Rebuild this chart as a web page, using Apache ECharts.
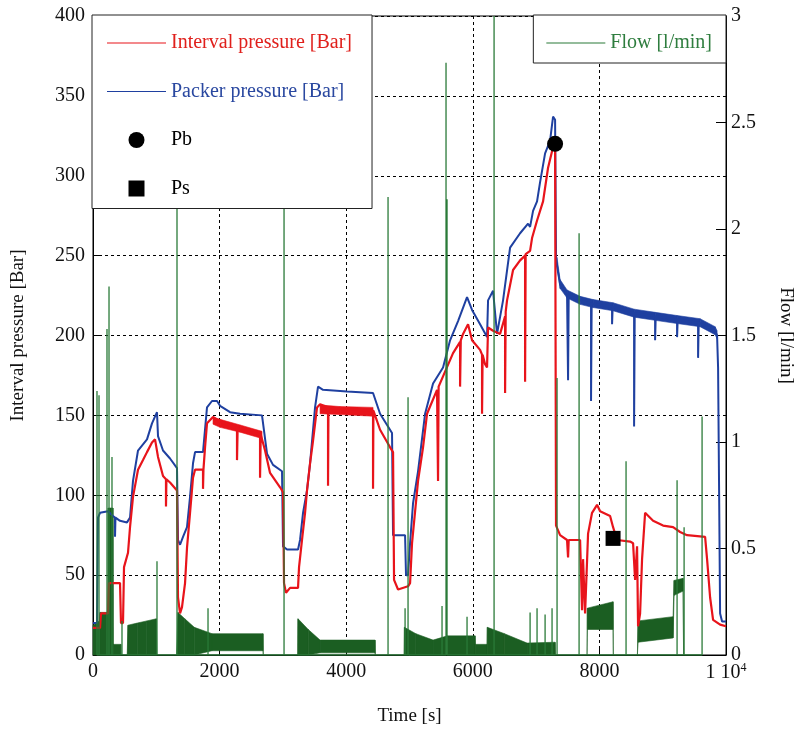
<!DOCTYPE html>
<html><head><meta charset="utf-8">
<script src="https://cdn.jsdelivr.net/npm/echarts@6/dist/echarts.min.js"></script>
<style>html,body{margin:0;padding:0;background:#fff}#c{width:795px;height:731px}</style>
</head><body><div id="c"></div>
<script>
// ---- data ----
const xTickMax = 10000;
const leftTickLabels = [0,50,100,150,200,250,300,350,400];
const rightTickLabels = [0,0.5,1,1.5,2,2.5,3];

// Interval pressure [Bar]: time [s] and pressure
const redT = [0,111,126,237,253,427,442,474,490,553,585,632,711,790,853,932,980,1027,1106,1153,1153,1160,1217,1327,1343,1375,1406,1454,1485,1533,1580,1612,1738,1738,1745,1770,1801,1896,2007,2275,2275,2285,2323,2639,2639,2650,2670,2718,2797,2955,3002,3018,3049,3113,3239,3255,3302,3350,3381,3429,3476,3539,3587,3713,3713,3720,3903,4424,4424,4430,4535,4693,4740,4756,4819,4977,5009,5040,5135,5214,5277,5435,5451,5451,5460,5688,5799,5799,5810,5846,5925,5988,6115,6146,6146,6155,6194,6225,6241,6320,6431,6510,6510,6520,6541,6636,6747,6826,6826,6835,6905,6936,7015,7110,7189,7268,7300,7315,7379,7489,7505,7515,7695,7726,7742,7774,7805,7821,7884,7963,8011,8169,8216,8279,8485,8532,8564,8595,8611,8643,8674,8722,8753,8848,9006,9164,9275,9385,9670,9701,9749,9796,9907,10000];
const redP = [17,17,26,26,45,45,20,20,55,64,80,99,116,122,127,133,135,124,112,110,93,110,108,103,36,26,30,45,67,89,111,116,116,104,116,130,145,149,146,142,122,142,141,138,111,138,137,128,114,105,102,45,39,42,42,55,72,89,103,120,134,155,157,155,106,155,154,153,104,153,141,130,127,47,41,43,45,70,109,130,151,166,166,109,168,189,196,168,197,201,207,197,191,188,151,188,182,180,205,203,201,212,164,215,222,241,247,250,171,251,253,261,272,284,305,318,320,81,75,72,61,72,72,28,60,26,26,76,89,94,90,87,80,72,71,70,47,68,18,26,60,89,90,84,81,80,77,75,74,60,36,22,19,18];
// noisy thick stretches of the interval pressure: [time, low, high]
const redNoiseA = [[1896,144.5,149],[2007,142.5,147.5],[2323,139.5,144],[2670,135.5,140]];
const redNoiseB = [[3587,151,156.5],[3903,150.5,155.5],[4424,149.5,155]];

// Packer pressure [Bar]: [time, pressure]
const packer = [[0,20],[63,20],[79,86],[111,89],[237,90],[316,87],[348,86],[348,74],[355,86],[427,84],[537,83],[585,86],[632,109],[711,128],[853,135],[932,145],[1011,152],[1027,137],[1106,128],[1217,123],[1327,117],[1343,72],[1375,69],[1422,74],[1485,80],[1533,99],[1580,120],[1612,127],[1738,127],[1801,155],[1880,159],[1959,159],[2007,156],[2165,152],[2323,151],[2670,150],[2749,126],[2844,119],[2986,115],[3002,68],[3065,66],[3239,66],[3271,72],[3318,89],[3381,103],[3429,120],[3508,155],[3555,168],[3634,166],[4013,165],[4424,164],[4535,151],[4724,139],[4740,75],[4930,75],[4945,50],[4977,50],[5009,70],[5056,95],[5135,115],[5246,151],[5372,170],[5530,180],[5641,197],[5767,209],[5909,224],[5988,216],[6115,207],[6225,199],[6241,222],[6320,228],[6383,201],[6478,222],[6589,255],[6747,264],[6873,270],[6905,268],[6952,278],[7015,284],[7063,296],[7142,314],[7221,322],[7252,332],[7268,337],[7300,335],[7315,247],[7379,232],[7489,226],[7505,226],[7505,172],[7515,225],[7695,222],[7868,220],[7868,159],[7878,220],[8200,218],[8200,207],[8210,218],[8548,214],[8548,143],[8558,214],[8880,212],[8880,197],[8890,212],[9227,210],[9227,199],[9237,210],[9559,208],[9559,186],[9569,208],[9828,203],[9859,200],[9875,180],[9907,26],[9938,21],[10000,21]];
// noisy thick stretch of the packer pressure: [time, low, high]
const packerNoise = [[7330,244,249],[7379,229.5,235],[7489,223.5,228.5],[7695,219.5,224.5],[7900,217.5,222.5],[8216,215.5,220.5],[8548,211.5,216.5],[8880,209.5,214.5],[9227,207.5,212.5],[9591,205.5,210.5],[9828,200.5,205.5],[9859,198,203]];

// Flow [l/min] dense band: [time, lower edge, upper edge]
const flowBand = [[0,0,0.14],[100,0,0.16],[111,0,0.2],[237,0,0.2],[240,0,0.69],[316,0,0.69],[320,0,0.05],[440,0,0.05],[445,0,0],[540,0,0],[553,0,0.14],[700,0,0.15],[850,0,0.16],[1000,0,0.17],[1011,0,0],[1320,0,0],[1343,0,0.2],[1450,0,0.17],[1600,0,0.13],[1880,0.02,0.1],[2686,0.02,0.1],[2690,0,0],[3235,0,0],[3239,0,0.17],[3400,0,0.12],[3587,0.01,0.07],[4456,0.01,0.07],[4460,0,0],[4914,0,0],[4920,0,0.13],[5100,0,0.1],[5372,0,0.07],[5600,0,0.09],[6036,0,0.09],[6040,0,0.05],[6225,0,0.05],[6230,0,0.13],[6500,0,0.1],[6857,0,0.056],[7300,0,0.06],[7305,0,0],[7805,0,0],[7810,0.12,0.22],[8216,0.12,0.25],[8220,0,0],[8600,0,0],[8611,0.06,0.16],[9164,0.08,0.18],[9180,0.28,0.35],[9322,0.3,0.36],[9330,0,0],[10000,0,0]];

// Flow spikes: [time, peak flow]
const flowSpikes = [[63,1.24],[95,1.22],[221,1.53],[253,1.73],[300,0.93],[458,0.16],[1011,0.44],[1327,2.1],[1817,0.22],[3018,2.1],[4661,2.15],[4930,0.22],[4977,1.21],[5514,0.23],[5577,2.78],[5593,2.14],[5909,0.18],[6336,3.0],[6905,0.2],[7015,0.22],[7142,0.19],[7252,0.22],[7331,1.3],[7679,1.98],[8421,0.91],[9227,0.82],[9338,0.6],[9622,1.12]];

const pbPoint = [7300, 320];
const psPoint = [8216, 73];

// ---- build ----
const FF = 'Liberation Serif';
const RED = '#e8141b', BLUE = '#1f40a0', BAND = '#1b5e22', SPIKE = '#2a7a38';
const redData = redT.map((t,i)=>[t, redP[i]]);
function segs(arr){
  const out = [];
  for (let i=0;i<arr.length-1;i++){
    const a=arr[i], b=arr[i+1];
    if (a[2]-a[1] <= 0 && b[2]-b[1] <= 0) continue;
    out.push([a[0],a[1],a[2],b[0],b[1],b[2]]);
  }
  return out;
}
function bandSeries(name, data, yIdx, color, z){
  return {name, type:'custom', yAxisIndex:yIdx, data, silent:true, z,
    encode:{x:[0,3], y:[1,2,4,5]},
    renderItem:(params, api)=>{
      const p1=api.coord([api.value(0),api.value(1)]), p2=api.coord([api.value(0),api.value(2)]);
      const p3=api.coord([api.value(3),api.value(5)]), p4=api.coord([api.value(3),api.value(4)]);
      return {type:'polygon', shape:{points:[p1,p2,p3,p4]}, style:{fill:color, stroke:color, lineWidth:0.6}};
    }};
}
const spikeData = [];
flowSpikes.forEach(s=>{ spikeData.push([s[0],0],[s[0],s[1]],[s[0],0]); });

const chart = echarts.init(document.getElementById('c'), null, {renderer:'canvas'});
const axisText = {fontFamily:FF, fontSize:20, color:'#111'};
const lineIcon = 'path://M0,0H100V2H0Z';
chart.setOption({
  animation:false,
  backgroundColor:'#fff',
  grid:{left:93, right:69, top:16, bottom:76, show:true, borderColor:'#000', borderWidth:1, backgroundColor:'transparent',
        containLabel:false, outerBoundsMode:'none'},
  legend:[
    {left:92, top:15, z:20, orient:'vertical', itemWidth:59, itemHeight:16, itemGap:28.5,
     padding:[18,20,10,15], borderColor:'#222', borderWidth:1, borderRadius:0, backgroundColor:'#fff',
     selectedMode:false, textStyle:{fontFamily:FF, fontSize:20},
     data:[{name:'Interval pressure [Bar]', icon:lineIcon, textStyle:{color:'#e0201c'}},
           {name:'Packer pressure [Bar]', icon:lineIcon, textStyle:{color:'#2a48a0'}},
           {name:'Pb', icon:'circle', itemStyle:{color:'#000'}, textStyle:{color:'#000'}},
           {name:'Ps', icon:'path://M0,0H10V10H0Z', itemStyle:{color:'#000'}, textStyle:{color:'#000'}}]},
    {right:69, top:15, z:20, orient:'vertical', itemWidth:59, itemHeight:16,
     padding:[18,14,10,13], borderColor:'#222', borderWidth:1, borderRadius:0, backgroundColor:'#fff',
     selectedMode:false, textStyle:{fontFamily:FF, fontSize:20},
     data:[{name:'Flow [l/min]', icon:lineIcon, textStyle:{color:'#2e7d3e'}}]}
  ],
  xAxis:{type:'value', min:0, max:xTickMax, interval:2000,
    axisLine:{show:true, lineStyle:{color:'#000', width:1}},
    axisTick:{show:true, inside:true, length:6, lineStyle:{color:'#000'}},
    axisLabel:{...axisText, margin:7,
      formatter:v=> v===xTickMax ? '{a|1 10}{b|4}' : String(v),
      rich:{a:{...axisText}, b:{fontFamily:FF, fontSize:12, color:'#111', verticalAlign:'top', padding:[0,0,10,0]}}},
    splitLine:{show:true, lineStyle:{color:'#000', type:[3,3], width:1}},
    name:'Time [s]', nameLocation:'middle', nameGap:52, nameTextStyle:{fontFamily:FF, fontSize:19, color:'#111'}},
  yAxis:[
    {type:'value', position:'left', min:leftTickLabels[0], max:leftTickLabels[leftTickLabels.length-1], interval:50,
     axisLine:{show:true, lineStyle:{color:'#000'}},
     axisTick:{show:true, inside:true, length:6, lineStyle:{color:'#000'}},
     axisLabel:{...axisText, margin:8},
     splitLine:{show:true, lineStyle:{color:'#000', type:[3,3], width:1}},
     name:'Interval pressure [Bar]', nameLocation:'middle', nameGap:65, nameRotate:90,
     nameTextStyle:{fontFamily:FF, fontSize:19, color:'#111'}},
    {type:'value', position:'right', min:rightTickLabels[0], max:rightTickLabels[rightTickLabels.length-1], interval:0.5,
     axisLine:{show:true, lineStyle:{color:'#000'}},
     axisTick:{show:true, inside:true, length:10, lineStyle:{color:'#000'}},
     axisLabel:{...axisText, margin:5},
     splitLine:{show:false},
     name:'Flow [l/min]', nameLocation:'middle', nameGap:50, nameRotate:-90,
     nameTextStyle:{fontFamily:FF, fontSize:19, color:'#111'}}
  ],
  series:[
    bandSeries('flowBand', segs(flowBand), 1, BAND, 1),
    bandSeries('packerNoise', segs(packerNoise), 0, BLUE, 3),
    {name:'Packer pressure [Bar]', type:'line', yAxisIndex:0, data:packer, symbol:'none', showSymbol:false,
     color:BLUE, lineStyle:{width:2, color:BLUE}, z:3},
    bandSeries('redNoiseA', segs(redNoiseA), 0, RED, 4),
    bandSeries('redNoiseB', segs(redNoiseB), 0, RED, 4),
    {name:'Interval pressure [Bar]', type:'line', yAxisIndex:0, data:redData, symbol:'none', showSymbol:false,
     color:RED, lineStyle:{width:2.2, color:RED}, z:4},
    {name:'Flow [l/min]', type:'line', yAxisIndex:1, data:spikeData, symbol:'none', showSymbol:false,
     color:SPIKE, lineStyle:{width:1.3, color:SPIKE}, z:5},
    {name:'Pb', type:'scatter', yAxisIndex:0, data:[pbPoint], symbol:'circle', symbolSize:16, itemStyle:{color:'#000', opacity:1}, z:6},
    {name:'Ps', type:'scatter', yAxisIndex:0, data:[psPoint], symbol:'rect', symbolSize:15, itemStyle:{color:'#000', opacity:1}, z:6}
  ]
});
</script></body></html>
